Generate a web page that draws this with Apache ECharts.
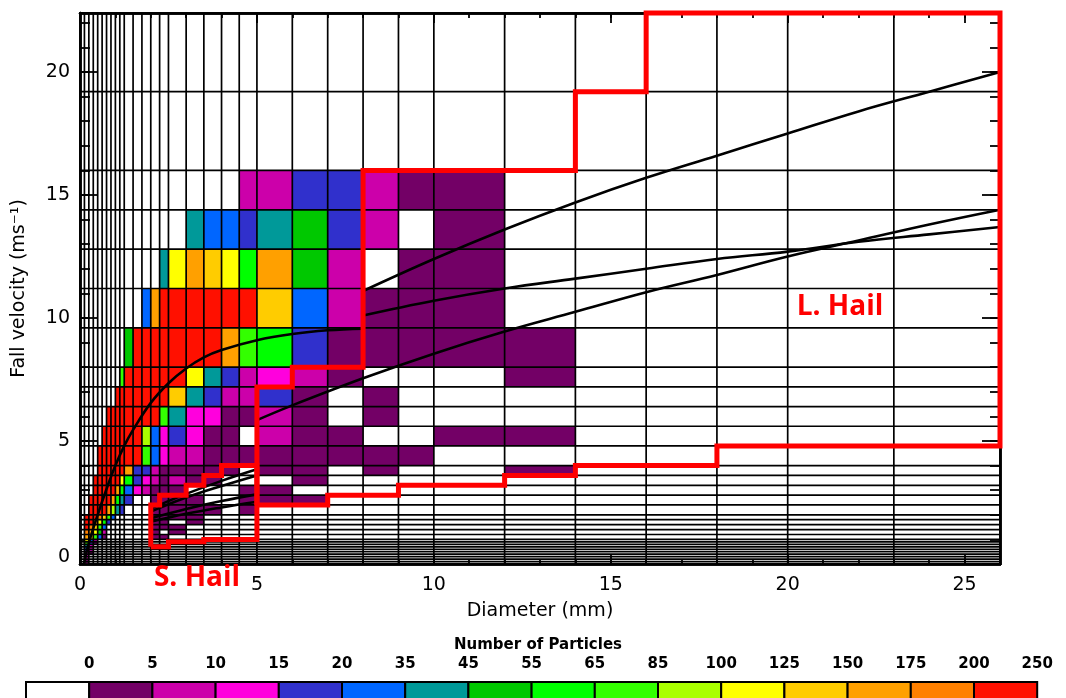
<!DOCTYPE html>
<html><head><meta charset="utf-8">
<script src="https://cdn.jsdelivr.net/npm/echarts@6/dist/echarts.min.js"></script>
<style>html,body{margin:0;padding:0;background:#fff}#c{width:1066px;height:698px}</style>
</head><body><div id="c"></div>
<script>
// Diameter bin edges (mm)
const D_EDGES = [0,0.125,0.25,0.375,0.5,0.625,0.75,0.875,1.0,1.125,1.25,1.5,1.75,2.0,2.25,2.5,3.0,3.5,4.0,4.5,5.0,6,7,8,9,10,12,14,16,18,20,23,26];
// Fall velocity bin edges (m/s)
const V_EDGES = [0,0.1,0.2,0.3,0.4,0.5,0.6,0.7,0.8,0.9,1.0,1.2,1.4,1.6,1.8,2.0,2.4,2.8,3.2,3.6,4.0,4.8,5.6,6.4,7.2,8.0,9.6,11.2,12.8,14.4,16.0,19.2,22.4];
// Legend class bounds and colours
const CLASS_BOUNDS = [0,5,10,15,20,35,45,55,65,85,100,125,150,175,200,250];
const CLASS_COLORS = ['#ffffff','#730066','#cc00aa','#ff00dd','#3030cc','#0066ff','#009999','#00c800','#00ff00','#33ff00','#aaff00','#ffff00','#ffcc00','#ffa000','#ff8000','#ff1000'];
// Particle counts: one array per velocity bin (bottom to top), values per diameter bin
const COUNTS = [
 [0,3],
 [0,3],
 [0,8],
 [0,8],
 [0,13,3],
 [0,18,8],
 [0,28,8],
 [0,40,13],
 [0,75,18,3],
 [0,112,28,8],
 [0,162,137,75,28,3,0,0,0,0,0,0,0,3,3],
 [0,187,162,112,50,8,0,0,0,0,0,0,0,3,0,3],
 [0,225,187,137,75,28,0,0,0,0,0,0,0,3,3,3],
 [0,225,225,187,112,60,18,0,0,0,0,0,0,3,3,0,3],
 [0,225,225,225,187,137,75,28,0,0,0,0,0,3,3,3,3],
 [0,0,225,225,225,225,162,92,40,18,0,0,0,3,3,3,3,3,0,3],
 [0,0,225,225,225,225,225,162,60,40,18,0,0,3,3,3,3,0,0,3,3,3],
 [0,0,0,225,225,225,225,225,162,60,28,13,8,3,3,3,0,0,0,3,3,0],
 [0,0,0,225,225,225,225,225,225,112,60,18,13,8,3,8,3,3,0,0,0,3],
 [0,0,0,0,225,225,225,225,225,225,162,18,18,8,3,3,3,3,3,0,3,3,0,3,0,0,3],
 [0,0,0,0,225,225,225,225,225,225,225,225,75,28,13,8,8,3,3,3,3,3,3,3,3],
 [0,0,0,0,0,225,225,225,225,225,225,225,92,28,13,18,13,3,3,0,8,3,3,0,0,3,3],
 [0,0,0,0,0,0,225,225,225,225,225,225,225,225,75,40,13,13,3,3,8,3,0,3],
 [0,0,0,0,0,0,0,0,225,225,225,225,225,225,225,137,40,18,8,8,18,3,0,3],
 [0,0,0,0,0,0,0,0,0,75,225,225,225,225,225,225,112,40,18,8,13,8,3,0,0,0,3],
 [0,0,0,0,0,0,0,0,0,0,50,225,225,225,225,225,225,225,162,75,60,18,3,3,3,3,3],
 [0,0,0,0,0,0,0,0,0,0,0,0,28,162,225,225,225,225,225,225,137,28,8,3,3,3],
 [0,0,0,0,0,0,0,0,0,0,0,0,0,0,40,112,162,137,112,60,162,50,8,0,3,3],
 [0,0,0,0,0,0,0,0,0,0,0,0,0,0,0,0,40,28,28,18,40,50,18,8,0,3],
 [0,0,0,0,0,0,0,0,0,0,0,0,0,0,0,0,0,0,0,8,8,18,18,8,3,3],
 [],
 []
];
// Fall-speed curves [D, v]
const RAIN_CURVE = [[0.11,0],[0.25,0.85],[0.5,2.0],[0.75,3.05],[1.0,4.0],[1.25,4.8],[1.5,5.45],[2.0,6.55],[2.5,7.35],[3.0,7.95],[3.5,8.4],[4.0,8.7],[5.0,9.1],[6.0,9.35],[7.0,9.5],[8.0,9.57]];
const LHAIL_CURVE_1 = [[8,11.1],[10,12.4],[12,13.6],[14,14.7],[16,15.7],[18,16.6],[20,17.5],[22,18.4],[24,19.2],[26,20.0]];
const LHAIL_CURVE_2 = [[8,10.1],[10,10.7],[12,11.2],[14,11.6],[16,12.0],[18,12.4],[20,12.7],[22,13.1],[24,13.4],[26,13.7]];
const LHAIL_CURVE_3 = [[5,5.85],[6,6.45],[8,7.55],[10,8.55],[12,9.45],[14,10.25],[16,11.05],[18,11.75],[20,12.5],[22,13.15],[24,13.8],[26,14.4]];
const SHAIL_CURVE_1 = [[2,2.25],[3,2.85],[4,3.38],[5,3.85]];
const SHAIL_CURVE_2 = [[2,2.13],[3,2.7],[4,3.17],[5,3.6]];
const SHAIL_CURVE_3 = [[2,1.86],[3,2.24],[4,2.56],[5,2.83]];
const SHAIL_CURVE_4 = [[2,1.72],[3,2.04],[4,2.30],[5,2.53]];
// Classification outlines
const SHAIL_BOX = [[2.0,0.7],[2.0,2.4],[2.25,2.4],[2.25,2.8],[3.0,2.8],[3.0,3.2],[3.5,3.2],[3.5,3.6],[4.0,3.6],[4.0,4.0],[5.0,4.0],[5.0,1.0],[3.5,1.0],[3.5,0.9],[2.5,0.9],[2.5,0.7],[2.0,0.7]];
const LHAIL_BOX = [[5,2.4],[5,7.2],[6,7.2],[6,8.0],[8,8.0],[8,16.0],[14,16.0],[14,19.2],[16,19.2],[16,22.4],[26,22.4],[26,4.8],[18,4.8],[18,4.0],[14,4.0],[14,3.6],[12,3.6],[12,3.2],[9,3.2],[9,2.8],[7,2.8],[7,2.4],[5,2.4]];

const X_TICKS_MAJOR = 5, X_MIN = 0, X_MAX = 26;
const Y_TICKS_MAJOR = 5, Y_MIN = 0, Y_MAX = 22.4;

function colorFor(c) {
  if (!(c > 0)) return CLASS_COLORS[0];
  for (let k = 1; k < CLASS_BOUNDS.length; k++) if (c <= CLASS_BOUNDS[k]) return CLASS_COLORS[k];
  return CLASS_COLORS[CLASS_COLORS.length - 1];
}

const cellData = [];
COUNTS.forEach((row, vi) => {
  for (let di = 0; di < D_EDGES.length - 1; di++) {
    const c = row[di] || 0;
    if (c > 0) cellData.push([D_EDGES[di], D_EDGES[di + 1], V_EDGES[vi], V_EDGES[vi + 1], c]);
  }
});
const gridLineData = D_EDGES.map(d => [d, 0]).concat(V_EDGES.map(v => [v, 1]));

const FONT = 'DejaVu Sans';
const chart = echarts.init(document.getElementById('c'), null, {renderer: 'canvas'});

function axisX(pos, interval, len, labels) {
  return {
    type: 'value', min: X_MIN, max: X_MAX, interval: interval, position: pos,
    axisLine: {show: true, onZero: false, lineStyle: {color: '#000', width: 2.5}},
    axisTick: {show: true, inside: true, length: len, lineStyle: {color: '#000', width: 1.8}},
    axisLabel: labels ? {show: true, color: '#000', fontSize: 19, fontFamily: FONT, margin: 12,
      formatter: v => (v % X_TICKS_MAJOR === 0 ? String(v) : '')} : {show: false},
    splitLine: {show: false},
    name: labels ? 'Diameter (mm)' : '', nameLocation: 'middle', nameGap: 38,
    nameTextStyle: {color: '#000', fontSize: 19, fontFamily: FONT}
  };
}
function axisY(pos, interval, len, labels) {
  return {
    type: 'value', min: Y_MIN, max: Y_MAX, interval: interval, position: pos,
    axisLine: {show: true, onZero: false, lineStyle: {color: '#000', width: 2.5}},
    axisTick: {show: true, inside: true, length: len, lineStyle: {color: '#000', width: 1.8}},
    axisLabel: labels ? {show: true, color: '#000', fontSize: 19, fontFamily: FONT, margin: 10,
      formatter: v => (v === 0 ? '{z|0}' : (v % Y_TICKS_MAJOR === 0 ? String(v) : '')),
      rich: {z: {fontSize: 19, fontFamily: FONT, color: '#000', padding: [0, 0, 14, 0]}}} : {show: false},
    splitLine: {show: false},
    name: labels ? 'Fall velocity (ms\u207B\u00B9)' : '', nameLocation: 'middle', nameGap: 51, nameRotate: 90,
    nameTextStyle: {color: '#000', fontSize: 19, fontFamily: FONT}
  };
}

function lineSeries(data, opts) {
  return Object.assign({
    type: 'line', data: data, xAxisIndex: 0, yAxisIndex: 0, showSymbol: false, symbol: 'none',
    animation: false, silent: true
  }, opts);
}
const CURVE_STYLE = {color: '#000', width: 2.6};
const BOX_STYLE = {color: '#ff0000', width: 5, join: 'miter'};

const series = [
  {
    type: 'custom', name: 'cells', data: cellData, xAxisIndex: 0, yAxisIndex: 0, z: 1, silent: true,
    encode: {x: [0, 1], y: [2, 3]},
    renderItem: function (params, api) {
      const p0 = api.coord([api.value(0), api.value(3)]);
      const p1 = api.coord([api.value(1), api.value(2)]);
      return {type: 'rect', shape: {x: p0[0], y: p0[1], width: p1[0] - p0[0], height: p1[1] - p0[1]},
        style: {fill: colorFor(api.value(4)), stroke: null}};
    }
  },
  {
    type: 'custom', name: 'binGrid', data: gridLineData, xAxisIndex: 0, yAxisIndex: 0, z: 2, silent: true,
    encode: {x: 0},
    renderItem: function (params, api) {
      const val = api.value(0), kind = api.value(1);
      let a, b;
      if (kind === 0) { a = api.coord([val, Y_MIN]); b = api.coord([val, Y_MAX]); }
      else { a = api.coord([X_MIN, val]); b = api.coord([X_MAX, val]); }
      return {type: 'line', shape: {x1: a[0], y1: a[1], x2: b[0], y2: b[1]},
        style: {stroke: '#000', lineWidth: 1.7}};
    }
  },
  lineSeries(RAIN_CURVE, {smooth: 0.4, z: 3, lineStyle: CURVE_STYLE}),
  lineSeries(LHAIL_CURVE_1, {smooth: 0.4, z: 3, lineStyle: CURVE_STYLE}),
  lineSeries(LHAIL_CURVE_2, {smooth: 0.4, z: 3, lineStyle: CURVE_STYLE}),
  lineSeries(LHAIL_CURVE_3, {smooth: 0.4, z: 3, lineStyle: CURVE_STYLE}),
  lineSeries(SHAIL_CURVE_1, {smooth: 0.4, z: 3, lineStyle: CURVE_STYLE}),
  lineSeries(SHAIL_CURVE_2, {smooth: 0.4, z: 3, lineStyle: CURVE_STYLE}),
  lineSeries(SHAIL_CURVE_3, {smooth: 0.4, z: 3, lineStyle: CURVE_STYLE}),
  lineSeries(SHAIL_CURVE_4, {smooth: 0.4, z: 3, lineStyle: CURVE_STYLE}),
  lineSeries(SHAIL_BOX, {z: 4, clip: false, lineStyle: BOX_STYLE}),
  lineSeries(LHAIL_BOX, {z: 4, clip: false, lineStyle: BOX_STYLE})
];

// colour bar legend
const graphics = [];
const BAR_X = 26, BAR_W = 63.2, BAR_Y = 682, BAR_H = 22;
const LEG_FONT = 'bold 15px "DejaVu Sans"';
CLASS_COLORS.forEach((col, i) => {
  graphics.push({type: 'rect', shape: {x: BAR_X + i * BAR_W, y: BAR_Y, width: BAR_W, height: BAR_H},
    style: {fill: col, stroke: '#000', lineWidth: 2}, z: 10});
});
CLASS_BOUNDS.forEach((b, k) => {
  graphics.push({type: 'text', x: BAR_X + (k + 1) * BAR_W, y: 664, z: 10,
    style: {text: String(b), fill: '#000', font: LEG_FONT, textAlign: 'center', textVerticalAlign: 'middle', align: 'center', verticalAlign: 'middle'}});
});
graphics.push({type: 'text', x: 538, y: 645, z: 10,
  style: {text: 'Number of Particles', fill: '#000', font: LEG_FONT, textAlign: 'center', textVerticalAlign: 'middle', align: 'center', verticalAlign: 'middle'}});
graphics.push({type: 'text', x: 197, y: 578, z: 10,
  style: {text: 'S. Hail', fill: '#ff0000', font: 'bold 28px "Open Sans"', textAlign: 'center', textVerticalAlign: 'middle', align: 'center', verticalAlign: 'middle'}});
graphics.push({type: 'text', x: 840, y: 307, z: 10,
  style: {text: 'L. Hail', fill: '#ff0000', font: 'bold 28px "Open Sans"', textAlign: 'center', textVerticalAlign: 'middle', align: 'center', verticalAlign: 'middle'}});

chart.setOption({
  animation: false,
  backgroundColor: '#ffffff',
  grid: {left: 80, right: 66, top: 13, bottom: 134, containLabel: false, outerBoundsMode: 'none'},
  xAxis: [axisX('bottom', 5, 10, true), axisX('bottom', 1, 5, false), axisX('top', 5, 10, false), axisX('top', 1, 5, false)],
  yAxis: [axisY('left', 5, 18, true), axisY('left', 1, 10, false), axisY('right', 5, 18, false), axisY('right', 1, 10, false)],
  series: series,
  graphic: {elements: graphics}
});
</script>
</body></html>
